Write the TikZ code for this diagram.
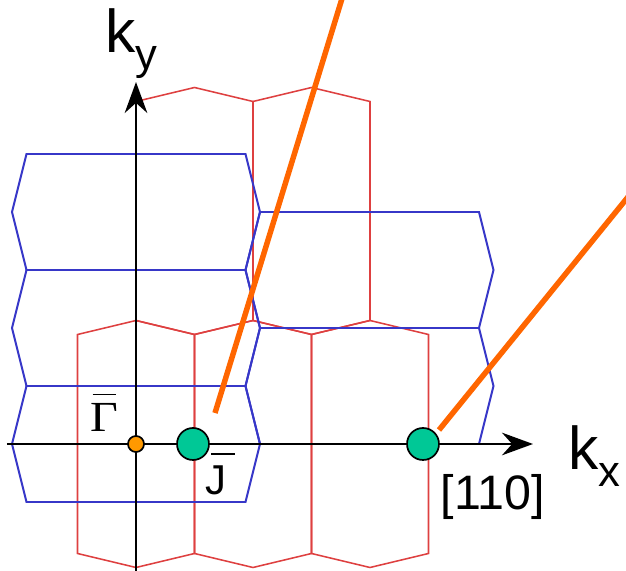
\documentclass[tikz,border=0pt]{standalone}
\usepackage{fontspec}
\setmainfont{Liberation Sans}
\newfontfamily\gammafont{Liberation Serif}
\usepackage{tikz}
\usetikzlibrary{arrows.meta,positioning}

\definecolor{zoneblue}{RGB}{55,55,200}
\definecolor{zonered}{RGB}{222,64,64}
\definecolor{beamorange}{RGB}{255,102,0}
\definecolor{pointgreen}{RGB}{0,200,150}
\definecolor{pointorange}{RGB}{255,153,0}

\begin{document}
\begin{tikzpicture}[x=0.025cm,y=0.025cm,
    bluehex/.style={draw=zoneblue,line width=1.4pt},
    redhex/.style={draw=zonered,line width=1.1pt},
    kaxis/.style={line width=2.1pt,-{Stealth[length=22pt,width=16pt]}},
    beam/.style={draw=beamorange,line width=3.9pt},
    txtlabel/.style={inner sep=0pt,anchor=base west}]
    % Frame
    \clip (-136,-127) rectangle (490,444);
    % Define points
    \coordinate (G) at (0,0);
    \coordinate (J1) at (57,0);
    \coordinate (J2) at (287,0);
    \coordinate (xstart) at (-129,0);
    \coordinate (xend) at (397,0);
    \coordinate (ystart) at (0,-135);
    \coordinate (yend) at (0,362);
    \coordinate (B1a) at (79,31);
    \coordinate (B1b) at (212,465);
    \coordinate (B2a) at (303,14);
    \coordinate (B2b) at (509,268);
    % Red zones
    \foreach \cx/\cy in {0/0,117/0,234/0,58.5/233,175.5/233}
      \draw[redhex] (\cx,\cy+123.5) -- ++(58.5,-14) -- ++(0,-219)
        -- ++(-58.5,-14) -- ++(-58.5,14) -- ++(0,219) -- cycle;
    % Blue zones
    \foreach \cx/\cy in {0/0,0/116,0/232,233.5/58,233.5/174}
      \draw[bluehex] (\cx-124,\cy) -- ++(14.5,58) -- ++(219,0)
        -- ++(14.5,-58) -- ++(-14.5,-58) -- ++(-219,0) -- cycle;
    % Beams
    \draw[beam] (B1a) -- (B1b);
    \draw[beam] (B2a) -- (B2b);
    % Axes
    \draw[kaxis] (xstart) -- (xend);
    \draw[kaxis] (ystart) -- (yend);
    % Mark points
    \draw[fill=pointorange, line width=1.2pt] (G) circle (8);
    \draw[fill=pointgreen, line width=1.2pt] (J1) circle (16);
    \draw[fill=pointgreen, line width=1.2pt] (J2) circle (16);
    % Labels
    \node[txtlabel, font=\fontsize{43}{43}\selectfont] (ky) at (-31,391)
      {k\raisebox{-12pt}{\fontsize{31}{31}\selectfont y}};
    \node[txtlabel, font=\fontsize{43}{43}\selectfont] (kx) at (432,-26)
      {k\raisebox{-12pt}{\fontsize{31}{31}\selectfont x}};
    \node[txtlabel, font=\fontsize{34.4}{35}\selectfont] (dir) at (304.3,-65.3) {[110]};
    \node[inner sep=0pt, anchor=base, font=\gammafont\fontsize{30.5}{31}\selectfont]
      (gamma) at (-31.3,12.3) {\scalebox{1.12}[1]{Γ}};
    \draw[line width=1.1pt] ([shift={(-12,37.4)}]gamma.base) -- ++(23.3,0);
    \node[txtlabel, font=\fontsize{29.7}{30}\selectfont] (jbar) at (69,-51) {J};
    \draw[line width=1.1pt] ([shift={(6.5,41)}]jbar.base west) -- ++(23.5,0);
\end{tikzpicture}
\end{document}
